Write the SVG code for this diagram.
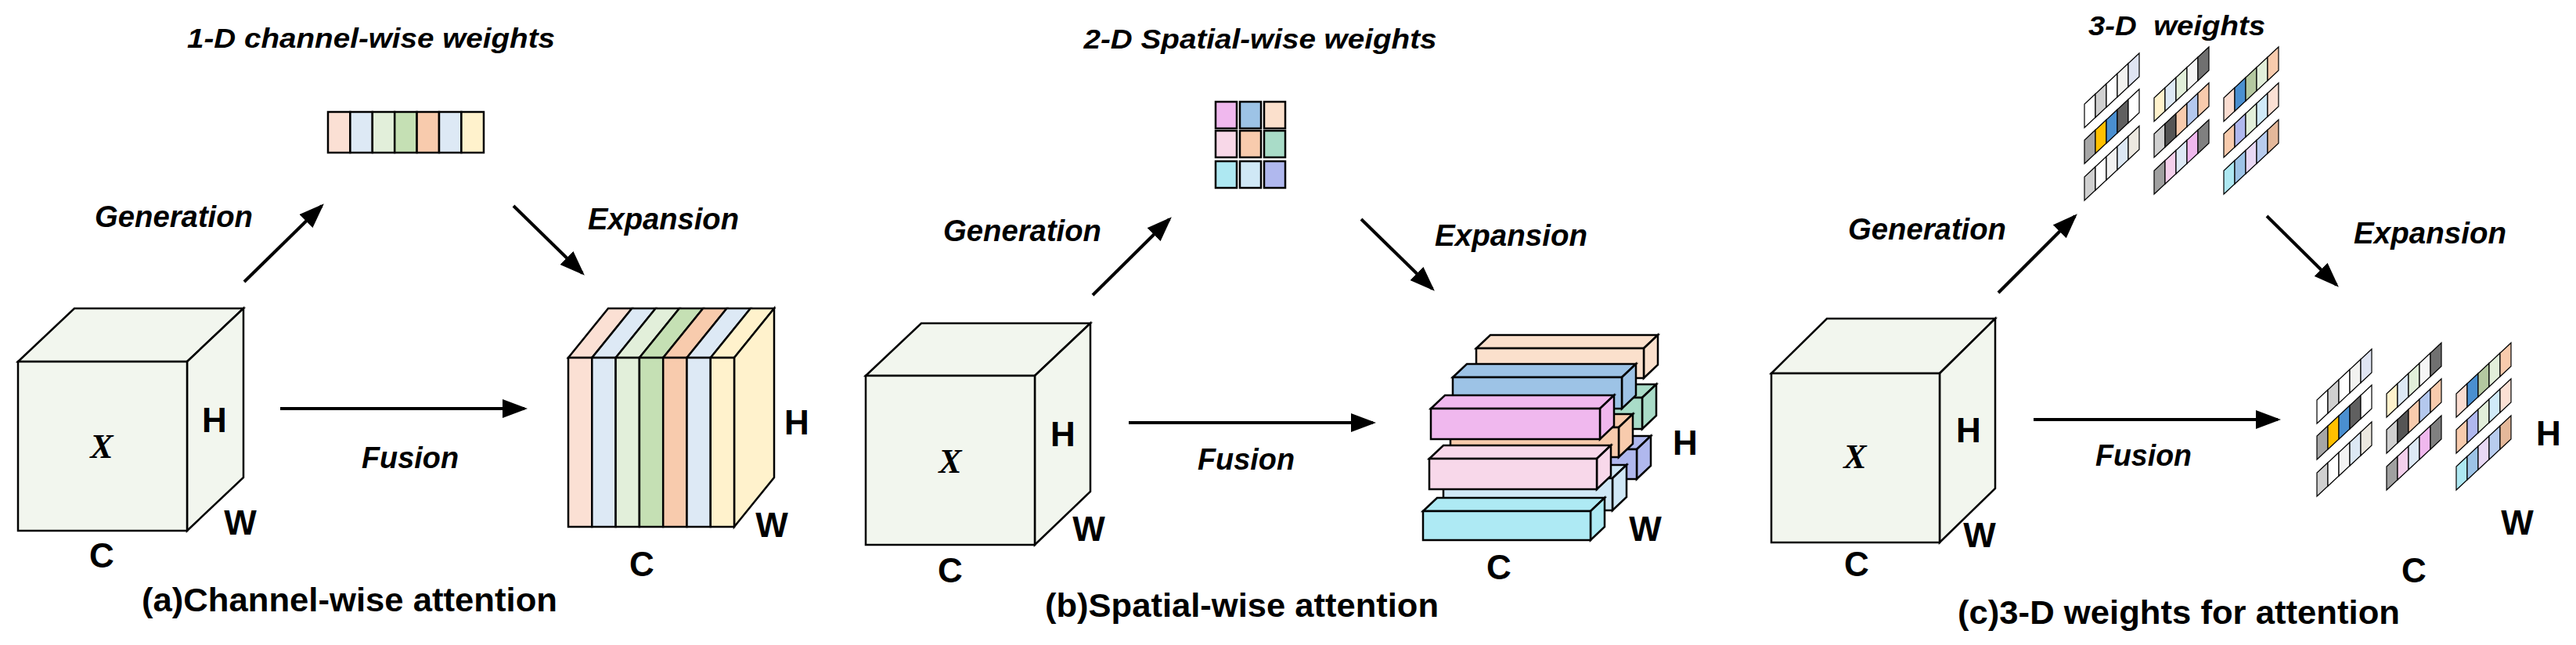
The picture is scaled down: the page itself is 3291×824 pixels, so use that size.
<svg xmlns="http://www.w3.org/2000/svg" xmlns:xlink="http://www.w3.org/1999/xlink" width="3291" height="824" viewBox="0 0 3291 824">
<style>
.t{font-family:"Liberation Sans",Arial,sans-serif;font-weight:bold;font-style:italic;fill:#000}
.lab{font-family:"Liberation Sans",Arial,sans-serif;font-weight:bold;font-size:44px;fill:#000;text-anchor:middle}
.cap{font-family:"Liberation Sans",Arial,sans-serif;font-weight:bold;font-size:42px;fill:#000}
.x{font-family:"Liberation Serif",serif;font-weight:bold;font-style:italic;font-size:44px;text-anchor:middle}
.s{stroke:#000;stroke-width:2.5;stroke-linejoin:miter}
.cube{fill:#f2f6ee;stroke:#000;stroke-width:2.5}
.arr{stroke:#000;stroke-width:4;fill:none;marker-end:url(#ah)}
.c{stroke:#000;stroke-width:1.2}
</style>
<defs>
<marker id="ah" markerWidth="8" markerHeight="6" refX="7" refY="3" orient="auto" markerUnits="strokeWidth">
<path d="M0,0 L8,3 L0,6 z" fill="#000"/>
</marker>
<polygon id="cell" points="0,0 0,-30 14,-43 14,-13" class="c"/>
<g id="w3d">
<g transform="translate(2663,163)"><use href="#cell" fill="#fff"/><use href="#cell" x="14" y="-13" fill="#d0d0d0"/><use href="#cell" x="28" y="-26" fill="#fff"/><use href="#cell" x="42" y="-39" fill="#f2f2f0"/><use href="#cell" x="56" y="-52" fill="#dfe4f2"/></g>
<g transform="translate(2663,209)"><use href="#cell" fill="#a6a6a6"/><use href="#cell" x="14" y="-13" fill="#ffc000"/><use href="#cell" x="28" y="-26" fill="#4a8fd0"/><use href="#cell" x="42" y="-39" fill="#606060"/><use href="#cell" x="56" y="-52" fill="#fff"/></g>
<g transform="translate(2663,256)"><use href="#cell" fill="#d0d0d0"/><use href="#cell" x="14" y="-13" fill="#fff"/><use href="#cell" x="28" y="-26" fill="#f2f2f2"/><use href="#cell" x="42" y="-39" fill="#dce8f4"/><use href="#cell" x="56" y="-52" fill="#ece8e0"/></g>
<g transform="translate(2752,155)"><use href="#cell" fill="#fff2cc"/><use href="#cell" x="14" y="-13" fill="#dde9f5"/><use href="#cell" x="28" y="-26" fill="#e2efda"/><use href="#cell" x="42" y="-39" fill="#f5f5f5"/><use href="#cell" x="56" y="-52" fill="#707070"/></g>
<g transform="translate(2752,201)"><use href="#cell" fill="#d0d0d0"/><use href="#cell" x="14" y="-13" fill="#555"/><use href="#cell" x="28" y="-26" fill="#f8cbad"/><use href="#cell" x="42" y="-39" fill="#b4c8ee"/><use href="#cell" x="56" y="-52" fill="#f8cbad"/></g>
<g transform="translate(2752,248)"><use href="#cell" fill="#a0a0a0"/><use href="#cell" x="14" y="-13" fill="#f4d0ec"/><use href="#cell" x="28" y="-26" fill="#dde9f5"/><use href="#cell" x="42" y="-39" fill="#f0b8ee"/><use href="#cell" x="56" y="-52" fill="#808080"/></g>
<g transform="translate(2841,155)"><use href="#cell" fill="#fadcd0"/><use href="#cell" x="14" y="-13" fill="#4a8fd0"/><use href="#cell" x="28" y="-26" fill="#b4c8a0"/><use href="#cell" x="42" y="-39" fill="#e2efda"/><use href="#cell" x="56" y="-52" fill="#f8cbad"/></g>
<g transform="translate(2841,201)"><use href="#cell" fill="#f8cbad"/><use href="#cell" x="14" y="-13" fill="#b0b8ee"/><use href="#cell" x="28" y="-26" fill="#e2efda"/><use href="#cell" x="42" y="-39" fill="#d0eaf8"/><use href="#cell" x="56" y="-52" fill="#fbe0d4"/></g>
<g transform="translate(2841,248)"><use href="#cell" fill="#aee8f2"/><use href="#cell" x="14" y="-13" fill="#9dc3e6"/><use href="#cell" x="28" y="-26" fill="#e8d8f4"/><use href="#cell" x="42" y="-39" fill="#b8ccee"/><use href="#cell" x="56" y="-52" fill="#e4b89a"/></g>
</g>
</defs>
<rect width="3291" height="824" fill="#fff"/>

<!-- Panel a -->
<g id="a-title"><text class="t" x="474" y="61" font-size="35" text-anchor="middle" textLength="470" lengthAdjust="spacingAndGlyphs">1-D channel-wise weights</text></g>
<g id="a-weights" class="s">
<rect x="419" y="143" width="28.4" height="52" fill="#fbe0d4"/>
<rect x="447.4" y="143" width="28.4" height="52" fill="#dde9f5"/>
<rect x="475.8" y="143" width="28.4" height="52" fill="#e2efda"/>
<rect x="504.2" y="143" width="28.4" height="52" fill="#c5e0b4"/>
<rect x="532.6" y="143" width="28.4" height="52" fill="#f8cbad"/>
<rect x="561" y="143" width="28.4" height="52" fill="#dde9f5"/>
<rect x="589.4" y="143" width="28.6" height="52" fill="#fff2cc"/>
</g>
<g id="a-input">
<polygon class="cube" points="23,462 95,394 311,394 239,462"/>
<polygon class="cube" points="239,462 311,394 311,610 239,678"/>
<rect class="cube" x="23" y="462" width="216" height="216"/>
<text class="x" x="130" y="585">X</text>
<text class="lab" x="274" y="552">H</text>
<text class="lab" x="307" y="683">W</text>
<text class="lab" x="130" y="725">C</text>
</g>
<g id="a-output" class="s">
<polygon points="726,457 777,394 807.3,394 756.3,457" fill="#fbe0d4"/>
<polygon points="756.3,457 807.3,394 837.6,394 786.6,457" fill="#dde9f5"/>
<polygon points="786.6,457 837.6,394 867.9,394 816.9,457" fill="#e2efda"/>
<polygon points="816.9,457 867.9,394 898.2,394 847.2,457" fill="#c5e0b4"/>
<polygon points="847.2,457 898.2,394 928.5,394 877.5,457" fill="#f8cbad"/>
<polygon points="877.5,457 928.5,394 958.8,394 907.8,457" fill="#dde9f5"/>
<polygon points="907.8,457 958.8,394 989,394 938,457" fill="#fff2cc"/>
<polygon points="938,457 989,394 989,610 938,673" fill="#fff2cc"/>
<rect x="726" y="457" width="30.3" height="216" fill="#fbe0d4"/>
<rect x="756.3" y="457" width="30.3" height="216" fill="#dde9f5"/>
<rect x="786.6" y="457" width="30.3" height="216" fill="#e2efda"/>
<rect x="816.9" y="457" width="30.3" height="216" fill="#c5e0b4"/>
<rect x="847.2" y="457" width="30.3" height="216" fill="#f8cbad"/>
<rect x="877.5" y="457" width="30.3" height="216" fill="#dde9f5"/>
<rect x="907.8" y="457" width="30.2" height="216" fill="#fff2cc"/>
</g>
<g id="a-labels">
<text class="lab" x="1018" y="555">H</text>
<text class="lab" x="986" y="686">W</text>
<text class="lab" x="820" y="736">C</text>
<text class="t" x="121" y="290" font-size="39" textLength="202" lengthAdjust="spacingAndGlyphs">Generation</text>
<text class="t" x="751" y="293" font-size="39" textLength="193" lengthAdjust="spacingAndGlyphs">Expansion</text>
<text class="t" x="462" y="598" font-size="39" textLength="124" lengthAdjust="spacingAndGlyphs">Fusion</text>
<text class="cap" x="181" y="781" textLength="531" lengthAdjust="spacingAndGlyphs">(a)Channel-wise attention</text>
</g>

<!-- Panel b -->
<g id="b-title"><text class="t" x="1610" y="62" font-size="35" text-anchor="middle" textLength="451" lengthAdjust="spacingAndGlyphs">2-D Spatial-wise weights</text></g>
<g id="b-weights" class="s">
<rect x="1553" y="130" width="27" height="34" fill="#f0b8ee"/>
<rect x="1584" y="130" width="27" height="34" fill="#9dc3e6"/>
<rect x="1615" y="130" width="27" height="34" fill="#fbe0cc"/>
<rect x="1553" y="167" width="27" height="34" fill="#f8d8e8"/>
<rect x="1584" y="167" width="27" height="34" fill="#f8cbad"/>
<rect x="1615" y="167" width="27" height="34" fill="#a9dcc8"/>
<rect x="1553" y="206" width="27" height="34" fill="#aee8f2"/>
<rect x="1584" y="206" width="27" height="34" fill="#d0e8f6"/>
<rect x="1615" y="206" width="27" height="34" fill="#b0b8ee"/>
</g>
<g id="b-input">
<polygon class="cube" points="1106,480 1177,413 1393,413 1322,480"/>
<polygon class="cube" points="1322,480 1393,413 1393,628 1322,696"/>
<rect class="cube" x="1106" y="480" width="216" height="216"/>
<text class="x" x="1214" y="604">X</text>
<text class="lab" x="1358" y="570">H</text>
<text class="lab" x="1391" y="691">W</text>
<text class="lab" x="1214" y="744">C</text>
</g>
<g id="b-output" class="s">
<g fill="#fbe0cc"><polygon points="1886,445 1904,428 2118,428 2100,445"/><polygon points="2100,445 2118,428 2118,466 2100,483"/><rect x="1886" y="445" width="214" height="38"/></g>
<g fill="#a9dcc8"><polygon points="1868,508 1886,491 2116,491 2098,508"/><polygon points="2098,508 2116,491 2116,531 2098,548"/><rect x="1868" y="508" width="230" height="40"/></g>
<g fill="#9dc3e6"><polygon points="1856,482 1874,465 2090,465 2072,482"/><polygon points="2072,482 2090,465 2090,505 2072,522"/><rect x="1856" y="482" width="216" height="40"/></g>
<g fill="#b0b8ee"><polygon points="1872,574 1890,557 2109,557 2091,574"/><polygon points="2091,574 2109,557 2109,595 2091,612"/><rect x="1872" y="574" width="219" height="38"/></g>
<g fill="#f8cbad"><polygon points="1853,546 1871,529 2086,529 2068,546"/><polygon points="2068,546 2086,529 2086,567 2068,584"/><rect x="1853" y="546" width="215" height="38"/></g>
<g fill="#f0b8ee"><polygon points="1828,522 1846,505 2062,505 2044,522"/><polygon points="2044,522 2062,505 2062,544 2044,561"/><rect x="1828" y="522" width="216" height="39"/></g>
<g fill="#d0e8f6"><polygon points="1844,611 1862,594 2078,594 2060,611"/><polygon points="2060,611 2078,594 2078,635 2060,652"/><rect x="1844" y="611" width="216" height="41"/></g>
<g fill="#f8d8ea"><polygon points="1826,586 1844,569 2058,569 2040,586"/><polygon points="2040,586 2058,569 2058,608 2040,625"/><rect x="1826" y="586" width="214" height="39"/></g>
<g fill="#aeeaf4"><polygon points="1818,653 1836,636 2050,636 2032,653"/><polygon points="2032,653 2050,636 2050,673 2032,690"/><rect x="1818" y="653" width="214" height="37"/></g>
</g>
<g id="b-labels">
<text class="lab" x="2153" y="581">H</text>
<text class="lab" x="2102" y="691">W</text>
<text class="lab" x="1915" y="740">C</text>
<text class="t" x="1205" y="308" font-size="39" textLength="202" lengthAdjust="spacingAndGlyphs">Generation</text>
<text class="t" x="1833" y="314" font-size="39" textLength="195" lengthAdjust="spacingAndGlyphs">Expansion</text>
<text class="t" x="1530" y="600" font-size="39" textLength="124" lengthAdjust="spacingAndGlyphs">Fusion</text>
<text class="cap" x="1335" y="788" textLength="503" lengthAdjust="spacingAndGlyphs">(b)Spatial-wise attention</text>
</g>

<!-- Panel c -->
<g id="c-title"><text class="t" x="2668" y="45" font-size="35" textLength="226" lengthAdjust="spacingAndGlyphs" xml:space="preserve">3-D  weights</text></g>
<g id="c-weights"><use href="#w3d"/></g>
<g id="c-input">
<polygon class="cube" points="2263,477 2334,407 2549,407 2478,477"/>
<polygon class="cube" points="2478,477 2549,407 2549,624 2478,693"/>
<rect class="cube" x="2263" y="477" width="215" height="216"/>
<text class="x" x="2370" y="598">X</text>
<text class="lab" x="2515" y="565">H</text>
<text class="lab" x="2529" y="699">W</text>
<text class="lab" x="2372" y="736">C</text>
</g>
<g id="c-output"><use href="#w3d" transform="translate(297,378)"/></g>
<g id="c-labels">
<text class="lab" x="3256" y="569">H</text>
<text class="lab" x="3216" y="683">W</text>
<text class="lab" x="3084" y="744">C</text>
<text class="t" x="2361" y="306" font-size="39" textLength="202" lengthAdjust="spacingAndGlyphs">Generation</text>
<text class="t" x="3007" y="311" font-size="39" textLength="195" lengthAdjust="spacingAndGlyphs">Expansion</text>
<text class="t" x="2677" y="595" font-size="39" textLength="123" lengthAdjust="spacingAndGlyphs">Fusion</text>
<text class="cap" x="2501" y="797" textLength="565" lengthAdjust="spacingAndGlyphs">(c)3-D weights for attention</text>
</g>

<g id="connectors">
<line class="arr" x1="312" y1="360" x2="411" y2="263"/>
<line class="arr" x1="656" y1="263" x2="744" y2="349"/>
<line class="arr" x1="358" y1="522" x2="670" y2="522"/>
<line class="arr" x1="1396" y1="377" x2="1494" y2="280"/>
<line class="arr" x1="1739" y1="280" x2="1830" y2="369"/>
<line class="arr" x1="1442" y1="540" x2="1754" y2="540"/>
<line class="arr" x1="2553" y1="374" x2="2651" y2="276"/>
<line class="arr" x1="2896" y1="276" x2="2985" y2="364"/>
<line class="arr" x1="2598" y1="536" x2="2910" y2="536"/>
</g>
</svg>
